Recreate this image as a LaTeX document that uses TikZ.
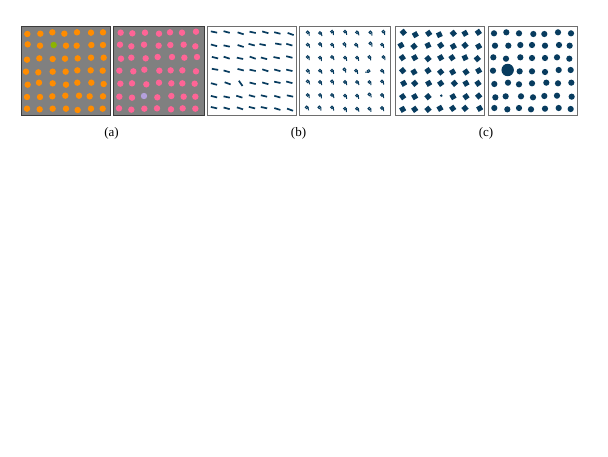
\documentclass[tikz,border=0pt]{standalone}
\usepackage{fontspec}
\setmainfont{Liberation Serif}
\definecolor{bggray}{RGB}{128,128,128}
\definecolor{darkframe}{RGB}{60,60,60}
\definecolor{lightframe}{RGB}{110,110,110}
\definecolor{dotorange}{RGB}{255,140,0}
\definecolor{dotgreen}{RGB}{140,180,0}
\definecolor{dotpink}{RGB}{255,100,150}
\definecolor{dotlav}{RGB}{180,160,220}
\definecolor{navy}{RGB}{8,60,95}
\tikzset{
  gpanel/.style={fill=bggray,draw=darkframe,line width=0.9pt},
  wpanel/.style={fill=white,draw=lightframe,line width=0.8pt},
  dashmark/.style={draw=navy,line width=1.7pt},
  qglyph/.pic={
    \draw[navy,line width=1pt] (0,0) circle (1.35pt);
    \draw[navy,line width=1pt] (1.35pt,0.3pt) -- (1.6pt,-3.2pt);
  },
  sqmark/.style={fill=navy,draw=none,minimum size=5.2pt,inner sep=0pt,outer sep=0pt,shape=rectangle},
  caplabel/.style={font=\fontsize{13}{15}\selectfont,anchor=base}
}
\begin{document}
\begin{tikzpicture}[x=1pt,y=-1pt]
\useasboundingbox (0,0) rectangle (608,456);
% panels
\draw[gpanel] (21,26.3) rectangle (110.5,115.3);
\draw[gpanel] (113.3,26.3) rectangle (204,115.3);
\draw[wpanel] (207.5,26.3) rectangle (296.8,115.3);
\draw[wpanel] (299.5,26.3) rectangle (390,115.3);
\draw[wpanel] (395.5,26.3) rectangle (484.5,115.3);
\draw[wpanel] (488.5,26.3) rectangle (577.5,115.3);
% panel 1
\foreach \zx/\zy in {37/42,76/41,112/37,148/41,186/37,228/38,264/37,
  38/73,75/77,153/77,185/77,229/75,264/75,
  36/119,73/115,113/117,150/116,188/115,228/113,266/113,
  33/155,70/157,113/155,152/155,187/151,227/151,263/152,
  38/194,72/188,113/190,153/194,187/188,229/188,266/192,
  36/231,75/231,112/229,151/227,192/227,224/229,264/229,
  36/266,74/268,113/266,153/266,188/270,228/266,263/266}
  \fill[dotorange] ({15+\zx/3},{20+\zy/3}) circle (3.2pt);
\fill[dotgreen] ({15+116/3},{20+75/3}) circle (3.2pt);
% panel 2
\foreach \zx/\zy in {32/38,67/40,105/38,147/41,180/37,216/38,258/35,
  30/74,64/79,102/74,146/77,181/75,221/74,256/79,
  33/116,64/113,107/115,143/111,186/111,223/113,261/111,
  28/152,70/154,103/149,148/152,182/151,217/151,258/154,
  31/191,66/190,109/193,147/188,184/190,217/190,254/191,
  28/230,66/233,142/232,184/228,221/230,256/230,
  27/265,64/269,103/266,141/265,183/268,218/265,256/266}
  \fill[dotpink] ({110+\zx/3},{20+\zy/3}) circle (3.2pt);
\fill[dotlav] ({110+102/3},{20+228/3}) circle (3.2pt);
% panel 3
\foreach \zx/\zy/\a in {42/36/-12,80/36/-15,122/40/-18,158/37/-12,196/37/-16,232/39/-14,272/42/-20,
  42/76/-15,80/78/-12,122/78/-18,155/74/-15,188/74/-12,235/72/-10,268/74/-16,
  45/113/-14,80/113/-18,120/115/-12,158/113/-20,192/115/-15,230/113/-12,268/111/-14,
  45/148/-10,80/154/-16,122/149/-14,158/151/-12,196/151/-18,232/151/-15,268/151/-13,
  42/192/-15,83/190/-20,158/190/-14,196/190/-16,232/187/-12,268/187/-15,
  42/230/-14,80/231/-12,118/230/-17,156/228/-15,192/228/-13,232/230/-16,270/228/-12,
  42/263/-13,80/265/-15,120/265/-18,156/263/-14,192/263/-12,232/267/-17,270/269/-20}
  \draw[dashmark] ({200+\zx/3},{20+\zy/3}) ++(\a+180:3.2pt) -- ++(\a:6.4pt);
\draw[dashmark] ({200+122/3},{20+190/3}) ++(125:3.2pt) -- ++(-55:6.4pt);
% panel 4
\foreach \zx/\zy/\a in {38/40/0,75/42/5,111/38/-5,150/38/0,186/40/5,226/40/0,265/38/-5,
  38/77/5,75/75/0,111/77/0,148/75/-5,183/77/5,226/73/0,261/77/0,
  38/114/0,75/116/-5,111/114/5,150/116/0,186/116/0,223/114/-5,265/114/0,
  38/155/0,75/155/5,111/155/0,148/151/-5,183/155/0,261/155/5,
  38/187/5,75/189/0,111/187/-5,150/189/0,186/189/5,223/189/0,261/187/0,
  38/228/0,75/228/-5,111/228/5,150/230/0,186/230/0,223/226/5,261/228/0,
  35/265/5,73/265/0,111/265/0,150/269/-5,186/269/5,223/269/0,261/267/0}
  \pic[rotate=\a] at ({295+\zx/3},{19+\zy/3}) {qglyph};
\pic[rotate=-100] at ({295+221/3},{20+153/3}) {qglyph};
% panel 5
\foreach \zx/\zy/\a in {40/37/40,76/44/30,116/40/35,148/44/25,190/40/40,225/40/30,265/37/35,
  33/76/30,72/79/40,114/76/25,152/76/35,190/79/30,225/76/40,266/79/30,
  37/113/35,74/113/30,114/116/40,152/113/30,186/113/35,225/113/25,262/116/40,
  38/152/40,72/156/30,114/152/35,152/156/40,188/156/30,228/156/35,266/152/30,
  41/190/30,74/190/40,116/190/30,152/190/35,193/190/40,228/190/30,264/190/35,
  38/230/35,74/230/30,114/230/40,189/230/30,228/230/35,266/228/40,
  38/268/30,74/268/35,114/268/40,150/265/30,188/265/35,225/265/40,269/265/30}
  \node[sqmark,rotate=\a] at ({390+\zx/3},{20+\zy/3}) {};
\node[sqmark,minimum size=2pt,rotate=30] at ({390+154/3},{20+227/3}) {};
% panel 6
\foreach \zx/\zy in {27/40,64/37,102/40,145/42,178/42,219/37,258/40,
  30/77,70/77,106/75,141/75,180/77,222/75,254/77,
  25/112,63/116,106/112,141/114,180/114,216/112,253/116,
  24/152,104/154,141/154,180/156,221/150,257/150,
  28/192,69/188,102/193,141/190,184/188,219/190,259/188,
  31/232,62/229,108/229,144/232,178/228,216/227,260/230,
  28/264,67/268,102/264,138/268,180/266,221/264,257/267}
  \fill[navy] ({485+\zx/3},{20+\zy/3}) circle (3.1pt);
\fill[navy] ({485+68/3},{20+150/3}) circle (6.2pt);
% labels
\node[caplabel] (la) at (111.5,136.5) {(a)};
\node[caplabel] (lb) at (298.5,136.5) {(b)};
\node[caplabel] (lc) at (486,136.5) {(c)};
\end{tikzpicture}
\end{document}
